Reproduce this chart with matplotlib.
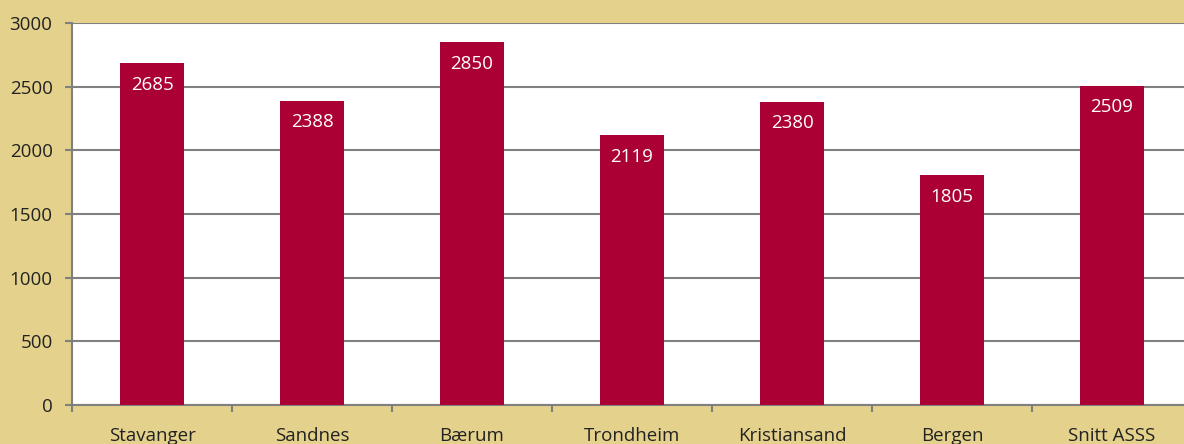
import matplotlib
matplotlib.use("Agg")
import matplotlib.pyplot as plt
import numpy as np

categories = ["Stavanger", "Sandnes", "Bærum", "Trondheim", "Kristiansand", "Bergen", "Snitt ASSS"]
values = [2685, 2388, 2850, 2119, 2380, 1805, 2509]
yticks = [0, 500, 1000, 1500, 2000, 2500, 3000]

BG = "#E4D28C"
BAR = "#AA0033"
GRID = "#808080"

plt.rcParams['font.family'] = ['Open Sans', 'DejaVu Sans']

W, H = 1184, 444
fig = plt.figure(figsize=(W/100, H/100), dpi=100, facecolor=BG)
left, right, top, bottom = 72, 1192, 23, 405
ax = fig.add_axes([left/W, (H-bottom)/H, (right-left)/W, (bottom-top)/H])
ax.set_facecolor("white")

x = np.arange(len(categories))
bars = ax.bar(x, values, width=0.4, color=BAR, zorder=3)
for xi, v in zip(x, values):
    ax.annotate(str(v), (xi, v), xytext=(0, -15.5), textcoords="offset points",
                ha="center", va="center", color="white", fontsize=13.5, zorder=4)

ax.set_xlim(-0.5, len(categories) - 0.5)
ax.set_ylim(0, 3000)
ax.set_yticks(yticks)
ax.set_yticklabels([str(t) for t in yticks], fontsize=13.5, color="#222222")
ax.yaxis.grid(True, color=GRID, linewidth=1.5, zorder=1)
ax.tick_params(axis="y", length=5, width=1.5, color=GRID, pad=9)

ax.set_xticks(x)
ax.set_xticklabels(categories, fontsize=13.5, color="#222222")
ax.tick_params(axis="x", which="major", length=0, pad=16)
ax.set_xticks(np.arange(-0.5, len(categories)), minor=True)
ax.tick_params(axis="x", which="minor", length=5, width=1.5, color=GRID)

for s in ["top", "right"]:
    ax.spines[s].set_visible(False)
for s in ["left", "bottom"]:
    ax.spines[s].set_color(GRID)
    ax.spines[s].set_linewidth(1.5)

fig.savefig("out.png", dpi=100, facecolor=BG)
